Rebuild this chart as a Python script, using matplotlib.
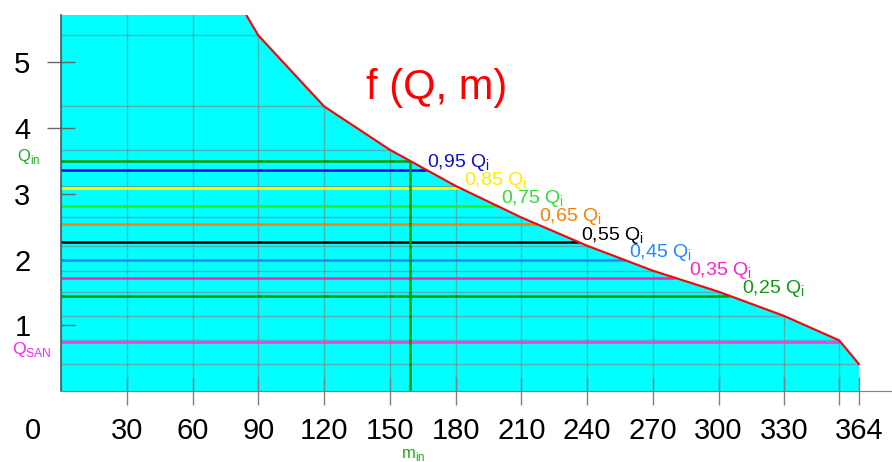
import numpy as np
import matplotlib
matplotlib.use("Agg")
import matplotlib.pyplot as plt
from matplotlib.transforms import ScaledTranslation

plt.rcParams["font.family"] = ["Liberation Sans", "DejaVu Sans"]

# f(Q, m) curve (m = days, Q = flow)
curve_m = [84.5, 90, 120, 150, 180, 210, 240, 270, 300, 330, 355, 364]
curve_q = [5.72, 5.41, 4.33, 3.67, 3.12, 2.64, 2.21, 1.83, 1.51, 1.14, 0.77, 0.41]

# fractions of Qi and the flow level of each
level_names = ["0,95", "0,85", "0,75", "0,65", "0,55", "0,45", "0,35", "0,25"]
level_q = [3.36, 3.09, 2.82, 2.54, 2.26, 1.99, 1.72, 1.45]
level_colors = ["#0000ff", "#ffff00", "#22ee22", "#ff8000",
                "#000000", "#1e88ff", "#ff22aa", "#009900"]
label_colors = ["#1010cc", "#ffee00", "#33dd33", "#ff8000",
                "#000000", "#2288ff", "#ff22cc", "#119911"]
label_dx = [0, 3, 3, 2, 1, 3, 10, 9]  # points

q_in = 3.50
q_san = 0.75

x_ticks = [0, 30, 60, 90, 120, 150, 180, 210, 240, 270, 300, 330, 355, 364]
x_labels = ["0", "30", "60", "90", "120", "150", "180", "210", "240",
            "270", "300", "330", "", "364"]
y_ticks = [1, 2, 3, 4, 5]


def m_at(q):
    # where a flow level meets the curve
    return np.interp(q, curve_q[::-1], curve_m[::-1])


fig = plt.figure(figsize=(8.92, 4.62), dpi=100)
ax = fig.add_axes([61 / 892, 71 / 462, 831 / 892, 376 / 462])
ax.set_xlim(0, 379.1)
ax.set_ylim(0, 5.72)

# cyan area under the curve
fill_x = [0] + curve_m + [curve_m[-1], 0]
fill_y = [curve_q[0]] + curve_q + [0, 0]
area = ax.fill(fill_x, fill_y, color="#00ffff", lw=0, zorder=1)[0]

ax.plot(curve_m, curve_q, color="#ff0000", lw=1.5, zorder=4)

# Qi levels
for name, q, c, lc, dx in zip(level_names, level_q, level_colors, label_colors, label_dx):
    xe = m_at(q)
    ax.hlines(q, 0, xe, colors=c, lw=1.8, zorder=2)
    ax.annotate(name + " Q$_\\mathregular{i}$", xy=(xe, q), xytext=(dx, 2),
                textcoords="offset points", color=lc, fontsize=14,
                ha="left", va="baseline", annotation_clip=False)

m_in = m_at(q_in)
ax.hlines(q_in, 0, m_in, colors="#009900", lw=1.8, zorder=2)
ax.vlines(m_in, 0, q_in, colors="#009900", lw=1.8, zorder=2.5)
ax.hlines(q_san, 0, m_at(q_san), colors="#ff33ee", lw=1.8, zorder=2)

ax.annotate("Q$_\\mathregular{in}$", xy=(0, q_in), xytext=(-15, 0),
            textcoords="offset points", color="#22aa22", fontsize=12,
            ha="right", va="baseline", annotation_clip=False)
ax.annotate("Q$_\\mathregular{SAN}$", xy=(0, q_san), xytext=(-6.5, -8.5),
            textcoords="offset points", color="#ff22ff", fontsize=12.5,
            ha="right", va="baseline", annotation_clip=False)
ax.annotate("m$_\\mathregular{in}$", xy=(m_in, 0), xytext=(2, -48),
            textcoords="offset points", color="#22aa22", fontsize=12,
            ha="center", va="baseline", annotation_clip=False)

ax.text(139, 4.44, "f (Q, m)", color="#ff0000", fontsize=30, va="baseline")

# axes and ticks
ax.set_xticks(x_ticks, x_labels)
ax.set_yticks(y_ticks)
grid_q = [np.interp(m, curve_m, curve_q) for m in x_ticks if m >= curve_m[1]]
ax.set_yticks(grid_q, minor=True)
ax.tick_params(axis="x", direction="inout", length=19.5, width=1,
               color="#808080", labelsize=21, pad=9)
ax.tick_params(axis="y", which="major", direction="in", length=10, width=1,
               color="#666666", labelsize=21, pad=22)
ax.tick_params(axis="y", which="minor", length=0)

ax.grid(axis="x", which="major", color="#808080", alpha=0.6, lw=1)
ax.grid(axis="y", which="minor", color="#808080", alpha=0.6, lw=1)
for gl in ax.get_xgridlines() + [t.gridline for t in ax.yaxis.get_minor_ticks()]:
    gl.set_clip_path(area)

xt = ax.xaxis.get_major_ticks()
xt[0].tick1line.set_visible(False)
lbl0 = xt[0].label1
lbl0.set_transform(lbl0.get_transform() + ScaledTranslation(-0.28, 0, fig.dpi_scale_trans))

for t in ax.yaxis.get_major_ticks()[3:5]:
    t.tick1line.set_marker("_")
    t.tick1line.set_markersize(20)

for s in ["top", "right"]:
    ax.spines[s].set_visible(False)
ax.spines["bottom"].set_color("#808080")
ax.spines["left"].set_color("#336666")
ax.spines["left"].set_linewidth(1.2)

fig.savefig("out.png", dpi=100)
